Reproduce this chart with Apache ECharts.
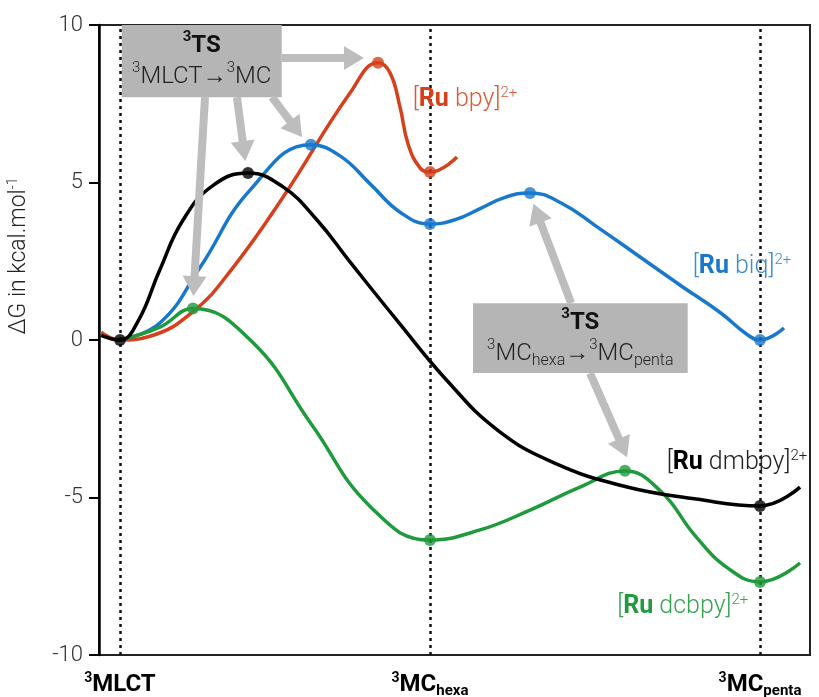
<!DOCTYPE html>
<html><head><meta charset="utf-8">
<script src="https://cdn.jsdelivr.net/npm/echarts@6/dist/echarts.min.js"></script>
<style>html,body{margin:0;padding:0;background:#fff}#c{width:819px;height:697px}</style>
</head><body><div id="c"></div>
<script>
// ---- data ----
const stateX = [2.95, 46.55, 92.97];
const stateMain = ['MLCT', 'MC', 'MC'];
const stateSub = ['', 'hexa', 'penta'];
const yTicks = [-10, -5, 0, 5, 10];

const bpyCurve = [[0.3,0.25],[2.95,0],[7.17,0.12],[13.22,0.9],[18.85,2.3],[25.9,4.54],[35.3,7.84],[39.24,8.8],[40.93,8.48],[42.33,7.4],[43.5,6.2],[45.2,5.45],[46.55,5.33],[50.35,5.81]];
const biqCurve = [[2.95,0],[8.6,0.55],[14.2,2.3],[21.24,4.76],[29.8,6.2],[34,5.83],[38.2,4.94],[42.4,4.05],[46.55,3.68],[50.1,3.82],[53.6,4.17],[57.1,4.53],[60.62,4.67],[65,4.35],[70,3.6],[76,2.65],[82,1.7],[87.5,0.85],[91,0.2],[92.97,0],[96.34,0.38]];
const dmbpyCurve = [[0.3,0.15],[2.95,0],[5.5,0.6],[8.5,2.2],[11.8,3.8],[16,4.9],[20.96,5.3],[25.88,4.86],[30.66,3.81],[35.3,2.48],[42,0.6],[49,-1.3],[56,-2.85],[64,-3.9],[74,-4.65],[84,-5.05],[92.97,-5.27],[98.6,-4.67]];
const dcbpyCurve = [[2.95,0],[8.5,0.4],[13.22,1.0],[21.5,-0.05],[29.9,-2.68],[38.2,-5.3],[46.55,-6.35],[53.59,-6.03],[60.62,-5.4],[67.65,-4.67],[73.98,-4.16],[79,-4.8],[83.8,-6.2],[88.5,-7.25],[92.97,-7.68],[98.6,-7.08]];

const bpyPts = [[39.24,8.8],[46.55,5.33]];
const biqPts = [[29.8,6.2],[46.55,3.68],[60.62,4.67],[92.97,0]];
const dmbpyPts = [[2.95,0],[20.96,5.3],[92.97,-5.27]];
const dcbpyPts = [[13.22,1.0],[46.55,-6.35],[73.98,-4.15],[92.97,-7.68]];

const tsArrows = [
  [[25.74,8.95],[35.86,8.95]],
  [[14.91,7.71],[13.36,1.71]],
  [[19.4,7.71],[20.39,6.0]],
  [[24.33,7.71],[27.71,6.7]],
  [[66.4,1.17],[61.6,4.03]],
  [[69.06,-1.05],[73.7,-3.43]]
];
const tsBoxes = [
  [[3.2,10],[25.7,7.71]],
  [[52.6,1.17],[82.8,-1.05]]
];

// ---- styles ----
const FONT = 'Roboto, "Liberation Sans", sans-serif';
const RED = '#d6401c', BLUE = '#1a78cc', BLACK = '#000000', GREEN = '#1f9a3c';
const SMOOTH = 0.45;

function curve(name, data, color, z) {
  return {name, type:'line', data, smooth:SMOOTH, showSymbol:false, symbol:'none', z,
    lineStyle:{color, width:3.5}, silent:true, animation:false};
}
function markers(data, color) {
  return {type:'scatter', data, symbolSize:12, itemStyle:{color}, z:6, silent:true, animation:false};
}
function curveLabel(coord, name, color, boldColor) {
  return {type:'scatter', data:[], z:8, silent:true, animation:false,
    markPoint:{symbol:'circle', symbolSize:0, silent:true, animation:false, data:[{coord}],
      label:{show:true, position:'inside', formatter:'[{b|Ru} ' + name + ']{s|2+}', color, fontSize:25,
        fontFamily:FONT, fontWeight:300, lineHeight:28,
        rich:{b:{fontWeight:'bold', fontSize:25, color:boldColor, lineHeight:28, fontFamily:FONT},
              s:{fontSize:15, verticalAlign:'top', lineHeight:15, color, fontFamily:FONT}}}}};
}

const boxRich = {
  s:{fontSize:15, fontWeight:'bold', verticalAlign:'top', lineHeight:15, color:'#111', fontFamily:FONT},
  t:{fontSize:24, fontWeight:'bold', lineHeight:31, color:'#111', fontFamily:FONT},
  s2:{fontSize:15, fontWeight:300, verticalAlign:'top', lineHeight:15, color:'#222', fontFamily:FONT},
  n:{fontSize:24, fontWeight:300, lineHeight:31, color:'#222', fontFamily:FONT},
  sub:{fontSize:16, fontWeight:300, verticalAlign:'bottom', lineHeight:16, color:'#222', fontFamily:FONT}
};
const boxTexts = [
  '{s|3}{t|TS}\n{s2|3}{n|MLCT→}{s2|3}{n|MC}',
  '{s|3}{t|TS}\n{s2|3}{n|MC}{sub|hexa}{n|→}{s2|3}{n|MC}{sub|penta}'
];

const option = {
  animation:false,
  backgroundColor:'#fff',
  grid:{left:99, right:9, top:25, bottom:42, show:true, borderColor:'#222', borderWidth:2,
    backgroundColor:'transparent', containLabel:false, outerBoundsMode:'none'},
  xAxis:{type:'value', min:0, max:100,
    axisLine:{show:false}, axisTick:{show:false}, splitLine:{show:false},
    axisLabel:{show:true, customValues:stateX, margin:16, interval:0,
      formatter:function(v){
        let i = stateX.findIndex(s => Math.abs(s - v) < 0.01);
        if (i < 0) return '';
        return '{s|3}{m|' + stateMain[i] + '}' + (stateSub[i] ? '{b|' + stateSub[i] + '}' : '');
      },
      rich:{
        s:{fontSize:14, fontWeight:'bold', verticalAlign:'top', lineHeight:14, color:'#000', fontFamily:FONT},
        m:{fontSize:24, fontWeight:'bold', lineHeight:28, color:'#000', fontFamily:FONT},
        b:{fontSize:15, fontWeight:'bold', verticalAlign:'bottom', lineHeight:15, color:'#000', fontFamily:FONT}
      }}},
  yAxis:{type:'value', min:-10, max:10, interval:5,
    axisLine:{show:true, lineStyle:{color:'#000', width:2.5}},
    axisTick:{show:true, inside:false, length:10, lineStyle:{color:'#000', width:2}},
    splitLine:{show:false},
    axisLabel:{show:true, margin:16, fontSize:22, color:'#333', fontFamily:FONT, fontWeight:300}},
  graphic:[{type:'text', x:19, y:256, rotation:Math.PI/2, silent:true,
    style:{text:'ΔG in kcal.mol{s|-1}', align:'center', verticalAlign:'middle', fill:'#222',
      font:'300 23px ' + FONT, lineHeight:25,
      rich:{s:{fontSize:14, verticalAlign:'top', lineHeight:14, fill:'#222', fontFamily:FONT, fontWeight:300}}}}],
  series:[
    {type:'line', data:[], z:1, silent:true, animation:false,
      markLine:{silent:true, animation:false, symbol:['none','triangle'], symbolSize:[24,20],
        lineStyle:{color:'#bdbdbd', width:8, type:'solid', opacity:1}, label:{show:false},
        emphasis:{disabled:true},
        data: tsArrows.map(a => [{coord:a[0]}, {coord:a[1]}])}},
    {type:'line', data:[], z:2, silent:true, animation:false,
      markLine:{silent:true, animation:false, symbol:['none','none'],
        lineStyle:{color:'#111', width:2.5, type:[3,4]}, label:{show:false},
        emphasis:{disabled:true},
        data: stateX.map(x => ({xAxis:x}))}},
    curve('bpy', bpyCurve, RED, 3),
    curve('biq', biqCurve, BLUE, 3),
    curve('dcbpy', dcbpyCurve, GREEN, 3),
    curve('dmbpy', dmbpyCurve, BLACK, 4),
    markers(bpyPts, RED),
    markers(biqPts, BLUE),
    markers(dcbpyPts, GREEN),
    markers(dmbpyPts, BLACK),
    {type:'line', data:[], z:7, silent:true, animation:false,
      markArea:{silent:true, animation:false, itemStyle:{color:'#b5b5b5', opacity:1},
        emphasis:{disabled:true},
        data: tsBoxes.map((b, i) => [{coord:b[0], label:{show:true, position:'inside', formatter:boxTexts[i], rich:boxRich, lineHeight:31}}, {coord:b[1]}])}},
    curveLabel([51.48,7.62], 'bpy', '#dd5a38', RED),
    curveLabel([90.44,2.32], 'biq', '#3d8bd4', BLUE),
    curveLabel([89.73,-3.9], 'dmbpy', '#222', '#000'),
    curveLabel([82.1,-8.48], 'dcbpy', '#35a352', GREEN)
  ]
};
const chart = echarts.init(document.getElementById('c'));
chart.setOption(option);
</script>
</body></html>
